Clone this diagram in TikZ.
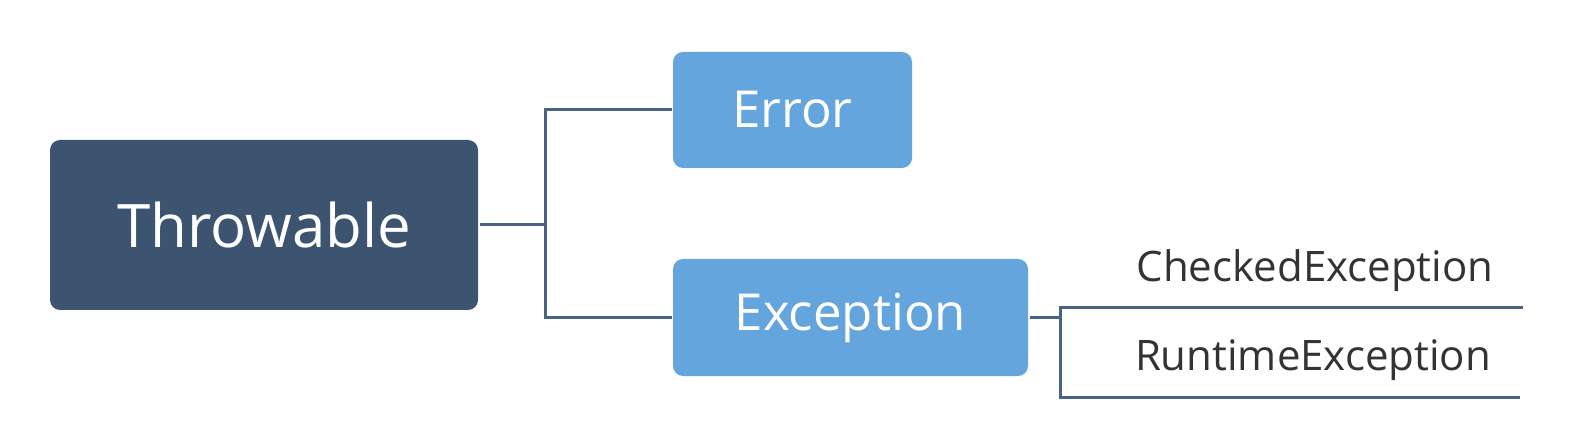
\documentclass[tikz,border=0pt]{standalone}
\usepackage{fontspec}
\setmainfont{Open Sans}
\usepackage{tikz}
\usetikzlibrary{
  chains,
  positioning,
  scopes
}
\definecolor{rootblue}{HTML}{3C5470}
\definecolor{leafblue}{HTML}{65A5DD}
\definecolor{linkblue}{HTML}{4A6384}
\definecolor{textgray}{HTML}{333333}

\begin{document}
\begin{tikzpicture}[x=1pt,y=-1pt,
      rootbox/.style={
         rectangle,
         rounded corners=10pt,
         fill=rootblue,
         text=white,
         minimum width=428pt,
         minimum height=170pt,
         font=\fontsize{60}{68}\selectfont
      },
      kindbox/.style={
         rectangle,
         rounded corners=10pt,
         fill=leafblue,
         text=white,
         minimum height=116pt,
         font=\fontsize{51}{58}\selectfont
      },
      subkind/.style={
         text=textgray,
         inner sep=0pt,
         font=\fontsize{42}{48}\selectfont
      },
      point/.style={coordinate},
      line width=3pt,draw=linkblue,
      every join/.style={draw=linkblue,line width=3pt},
      vh path/.style={to path={|- (\tikztotarget)}},
    ]
    \useasboundingbox (0,0) rectangle (1573,443);
    \node (throw) [rootbox] at (264,225) {Throwable};
    \node (err) [kindbox, minimum width=239pt] at (792.5,110) {Error};
    \node (exc) [kindbox, minimum width=355pt, minimum height=117pt] at (850.5,317.5) {Exception};
    \node (p1) [point] at (545,225) {};
    \node (p2) [point] at (1060,317.5) {};
    \node (c1) [point] at (1523,308) {};
    \node (c2) [point] at (1520,397) {};
    \node (chk) [subkind] at (1315,271) {CheckedException};
    \node (rte) [subkind] at (1313,360) {RuntimeException};
  { [start chain]
       \chainin (throw);
       \chainin (p1)    [join];
  }
  { [start chain]
       \chainin (p1);
       \chainin (err)   [join=by vh path];
  }
  { [start chain]
       \chainin (p1);
       \chainin (exc)   [join=by vh path];
  }
  { [start chain]
       \chainin (exc);
       \chainin (p2)    [join];
  }
  { [start chain]
       \chainin (p2);
       \chainin (c1)    [join=by vh path];
  }
  { [start chain]
       \chainin (p2);
       \chainin (c2)    [join=by vh path];
  }
\end{tikzpicture}
\end{document}
